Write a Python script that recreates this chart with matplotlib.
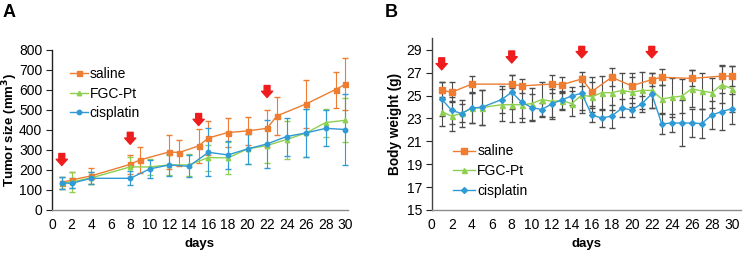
import matplotlib
matplotlib.use("Agg")
import matplotlib.pyplot as plt
from matplotlib.lines import Line2D

plt.rcParams["font.family"] = ["Liberation Sans", "DejaVu Sans"]

ORANGE = "#EE7D31"
GREEN = "#8DD04F"
BLUE = "#2F9AD5"
ERR_GREY = "#4d4d4d"

# ---- panel A: tumor size (mm^3) ----
a_saline_days = [1, 2, 4, 8, 9, 12, 13, 15, 16, 18, 20, 22, 23, 26, 29, 30]
a_saline = [137, 150, 170, 228, 250, 290, 287, 320, 360, 387, 395, 408, 470, 530, 602, 628]
a_saline_err = [30, 40, 38, 47, 65, 83, 65, 85, 87, 71, 70, 94, 97, 118, 90, 130]

a_fgc_days = [1, 2, 4, 8, 10, 12, 14, 16, 18, 20, 22, 24, 26, 28, 30]
a_fgc = [135, 140, 160, 215, 215, 225, 225, 262, 260, 305, 322, 352, 385, 437, 448]
a_fgc_err = [30, 52, 32, 50, 40, 50, 55, 65, 80, 75, 85, 95, 120, 70, 110]

a_cis_days = [1, 2, 4, 8, 10, 12, 14, 16, 18, 20, 22, 24, 26, 28, 30]
a_cis = [135, 133, 158, 158, 205, 225, 218, 288, 275, 305, 330, 367, 385, 408, 402]
a_cis_err = [30, 25, 30, 35, 45, 55, 55, 120, 70, 75, 118, 95, 122, 90, 178]

a_arrow_days = [1, 8, 15, 22]
a_arrow_top = [282, 388, 482, 622]
a_arrow_tip = [222, 328, 422, 562]

# ---- panel B: body weight (g) ----
b_saline_days = [1, 2, 4, 8, 9, 12, 13, 15, 16, 18, 20, 22, 23, 26, 29, 30]
b_saline = [25.45, 25.3, 26.0, 26.0, 25.85, 26.0, 25.95, 26.45, 25.35, 26.6, 25.85,
            26.4, 26.6, 26.5, 26.7, 26.7]
b_saline_err = [0.75, 0.9, 0.7, 0.8, 0.6, 0.8, 0.7, 0.65, 1.3, 0.8, 1.1, 0.6, 0.7,
                0.7, 1.0, 0.85]

b_days = [1, 2, 3, 4, 5, 7, 8, 9, 10, 11, 12, 13, 14, 15, 16, 17, 18, 19, 20, 21,
          22, 23, 24, 25, 26, 27, 28, 29, 30]
b_fgc = [23.6, 23.2, 23.45, 23.9, 23.95, 24.2, 24.2, 24.2, 24.3, 24.65, 24.5, 24.55,
         24.3, 25.05, 24.9, 25.25, 25.25, 25.45, 25.3, 25.45, 25.45, 24.7, 24.85,
         24.95, 25.6, 25.4, 25.25, 25.95, 25.6]
b_fgc_err = [1.3, 1.3, 0.8, 1.3, 1.5, 1.4, 1.5, 1.5, 1.4, 1.5, 1.4, 0.8, 1.1, 1.6,
             1.3, 1.5, 1.5, 1.5, 1.3, 1.6, 1.5, 1.2, 1.7, 1.5, 1.6, 1.6, 1.3, 1.6, 2.0]
b_cis = [24.7, 23.7, 23.43, 23.92, 23.97, 24.65, 25.3, 24.42, 23.95, 23.78, 24.27,
         24.62, 24.97, 25.2, 23.28, 23.05, 23.2, 23.9, 23.75, 24.27, 25.15, 22.52,
         22.6, 22.6, 22.6, 22.55, 23.3, 23.6, 23.85]
b_cis_err = [1.5, 1.2, 1.2, 1.3, 1.5, 1.2, 1.5, 1.4, 1.2, 0.6, 1.3, 0.8, 0.8, 1.5,
             0.6, 0.8, 1.0, 0.8, 0.6, 0.7, 1.2, 0.9, 0.8, 2.0, 1.2, 1.3, 1.2, 1.6, 1.3]

b_arrow_days = [1, 8, 15, 22]
b_arrow_top = [28.3, 28.9, 29.3, 29.3]
b_arrow_tip = [27.25, 27.85, 28.3, 28.3]

labels = ["saline", "FGC-Pt", "cisplatin"]

fig = plt.figure(figsize=(7.43, 2.56), dpi=100)
axA = fig.add_axes([0.070, 0.180, 0.398, 0.625])
axB = fig.add_axes([0.581, 0.180, 0.416, 0.670])


def style_axes(ax, xmax):
    ax.spines["top"].set_visible(False)
    ax.spines["right"].set_visible(False)
    ax.spines["left"].set_color("#222222")
    ax.spines["bottom"].set_color("#8c8c8c")
    ax.spines["left"].set_linewidth(1.0)
    ax.spines["bottom"].set_linewidth(1.0)
    ax.tick_params(axis="y", direction="out", length=4, width=0.8, color="#222222",
                   labelsize=10, pad=3)
    ax.tick_params(axis="x", length=0, labelsize=10, pad=6)
    ax.set_xlim(0, xmax)
    ax.set_xticks(range(0, 31, 2))
    ax.set_xlabel("days", fontsize=9.5, fontweight="bold", labelpad=4)


def draw_arrows(ax, days, tops, tips):
    for d, t0, t1 in zip(days, tops, tips):
        ax.annotate("", xy=(d, t1), xytext=(d, t0),
                    arrowprops=dict(arrowstyle="simple,head_length=0.45,head_width=0.8,tail_width=0.42",
                                    color="#ee1c1c", mutation_scale=10,
                                    shrinkA=0, shrinkB=0))


def legend_handles(sizes, markers):
    return [Line2D([], [], color=c, marker=m, markersize=s, linewidth=1.0)
            for c, m, s in zip([ORANGE, GREEN, BLUE], markers, sizes)]


# panel A
axA.errorbar(a_saline_days, a_saline, yerr=a_saline_err, color=ORANGE, marker="s",
             markersize=3.6, linewidth=1.0, elinewidth=0.8, capsize=2.2,
             ecolor=ORANGE)
axA.errorbar(a_fgc_days, a_fgc, yerr=a_fgc_err, color=GREEN, marker="^",
             markersize=3.2, linewidth=1.0, elinewidth=0.8, capsize=2.2,
             ecolor=GREEN)
axA.errorbar(a_cis_days, a_cis, yerr=a_cis_err, color=BLUE, marker="o",
             markersize=3.2, linewidth=1.0, elinewidth=0.8, capsize=2.2,
             ecolor=BLUE)
draw_arrows(axA, a_arrow_days, a_arrow_top, a_arrow_tip)
style_axes(axA, 30.25)
axA.set_ylim(0, 800)
axA.set_yticks(range(0, 801, 100))
axA.set_ylabel("Tumor size (mm$^\\mathbf{3}$)", fontsize=9.5, fontweight="bold")
axA.yaxis.set_label_coords(-0.108, 0.5)
axA.legend(legend_handles([3.6, 3.2, 3.2], ["s", "^", "o"]), labels,
           loc="upper left", bbox_to_anchor=(0.042, 0.93), frameon=False,
           fontsize=10, handlelength=1.3, handletextpad=0.1,
           labelspacing=0.42, borderaxespad=0)
fig.text(0.004, 0.985, "A", fontsize=13, fontweight="bold", va="top", ha="left")

# panel B
eb_kw = dict(linewidth=1.0, elinewidth=0.8, capsize=2.2, ecolor=ERR_GREY)
axB.errorbar(b_saline_days, b_saline, yerr=b_saline_err, color=ORANGE, marker="s",
             markersize=5, **eb_kw)
axB.errorbar(b_days, b_fgc, yerr=b_fgc_err, color=GREEN, marker="^",
             markersize=3.6, **eb_kw)
axB.errorbar(b_days, b_cis, yerr=b_cis_err, color=BLUE, marker="D",
             markersize=3.0, **eb_kw)
draw_arrows(axB, b_arrow_days, b_arrow_top, b_arrow_tip)
style_axes(axB, 30.9)
axB.spines["left"].set_color("#444444")
axB.set_ylim(15, 30)
axB.set_yticks(range(15, 30, 2))
axB.set_ylabel("Body weight (g)", fontsize=9.8, fontweight="bold")
axB.yaxis.set_label_coords(-0.096, 0.5)
axB.legend(legend_handles([5, 3.6, 3.0], ["s", "^", "D"]), labels,
           loc="upper left", bbox_to_anchor=(0.051, 0.414), frameon=False,
           fontsize=10, handlelength=1.6, handletextpad=0.15,
           labelspacing=0.42, borderaxespad=0)
fig.text(0.518, 0.985, "B", fontsize=13, fontweight="bold", va="top", ha="left")

fig.savefig("out.png", dpi=100)
